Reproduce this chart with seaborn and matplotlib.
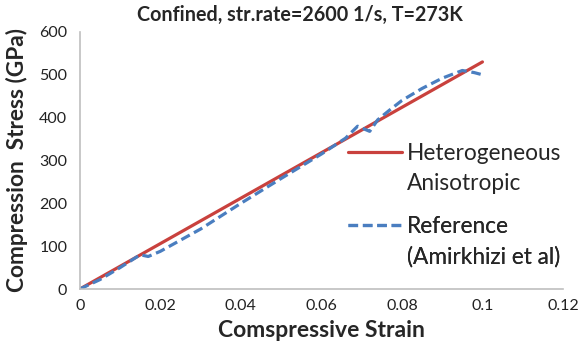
import pandas as pd
import matplotlib.pyplot as plt
from matplotlib.lines import Line2D
import seaborn as sns

# Data
strain_het = [0.0, 0.1]
stress_het = [0, 530]

strain_ref = [0.0, 0.005, 0.010, 0.015, 0.017, 0.020, 0.030, 0.040, 0.050, 0.060,
              0.066, 0.069, 0.071, 0.072, 0.074, 0.077, 0.080, 0.085, 0.090, 0.095, 0.098, 0.100]
stress_ref = [0, 22, 50, 80, 76, 88, 140, 200, 258, 315,
              352, 380, 372, 368, 395, 418, 440, 468, 492, 510, 505, 500]

series = ['Heterogeneous', 'Reference']
label_lines = [['Heterogeneous', 'Anisotropic'], ['Reference', '(Amirkhizi et al)']]
colors = ['#C9413D', '#4A7EC0']

df = pd.concat([
    pd.DataFrame({'strain': strain_het, 'stress': stress_het, 'series': series[0]}),
    pd.DataFrame({'strain': strain_ref, 'stress': stress_ref, 'series': series[1]}),
])

sns.set_style('white')
plt.rcParams['font.family'] = ['Lato', 'DejaVu Sans']

fig = plt.figure(figsize=(5.78, 3.47), dpi=100)
ax = fig.add_axes([0.138, 0.167, 0.836, 0.741])

sns.lineplot(data=df, x='strain', y='stress', hue='series', style='series',
             palette=colors, dashes=[(None, None), (3, 1.5)],
             linewidth=2.3, sort=False, legend=False, ax=ax)

ax.set_xlim(0, 0.12)
ax.set_ylim(0, 600)
ax.set_xticks([0, 0.02, 0.04, 0.06, 0.08, 0.1, 0.12])
ax.set_xticklabels(['0', '0.02', '0.04', '0.06', '0.08', '0.1', '0.12'])
ax.set_yticks(range(0, 601, 100))
ax.tick_params(labelsize=11.5, length=0, colors='#222222')
ax.tick_params(axis='y', pad=9)
ax.tick_params(axis='x', pad=7)

for side in ['top', 'right']:
    ax.spines[side].set_visible(False)
for side in ['left', 'bottom']:
    ax.spines[side].set_color('#BFBFBF')
    ax.spines[side].set_linewidth(1.2)

ax.set_xlabel('Comspressive Strain', fontsize=16.5, fontweight='bold')
ax.set_ylabel('Compression  Stress (GPa)', fontsize=16.3, fontweight='bold')
ax.xaxis.set_label_coords(0.5, -0.122)
ax.yaxis.set_label_coords(-0.108, 0.5)
fig.text(300 / 578, 1 - 15 / 347, 'Confined, str.rate=2600 1/s, T=273K',
         fontsize=14.2, fontweight='bold', ha='center', va='center')

# legend: two entries, first line of each label next to its line sample
blank = Line2D([], [], alpha=0)
styles = ['-', (0, (3, 1.5))]
tops = [0.568, 0.284]
for i in range(2):
    h = Line2D([], [], color=colors[i], linestyle=styles[i], linewidth=2.3)
    leg = ax.legend([h, blank], label_lines[i], frameon=False, loc='upper left',
                    bbox_to_anchor=(0.555, tops[i]), fontsize=16.3,
                    handlelength=2.4, handletextpad=0.22, borderaxespad=0,
                    borderpad=0, labelspacing=0.38)
    ax.add_artist(leg)

fig.savefig('out.png', dpi=100)
